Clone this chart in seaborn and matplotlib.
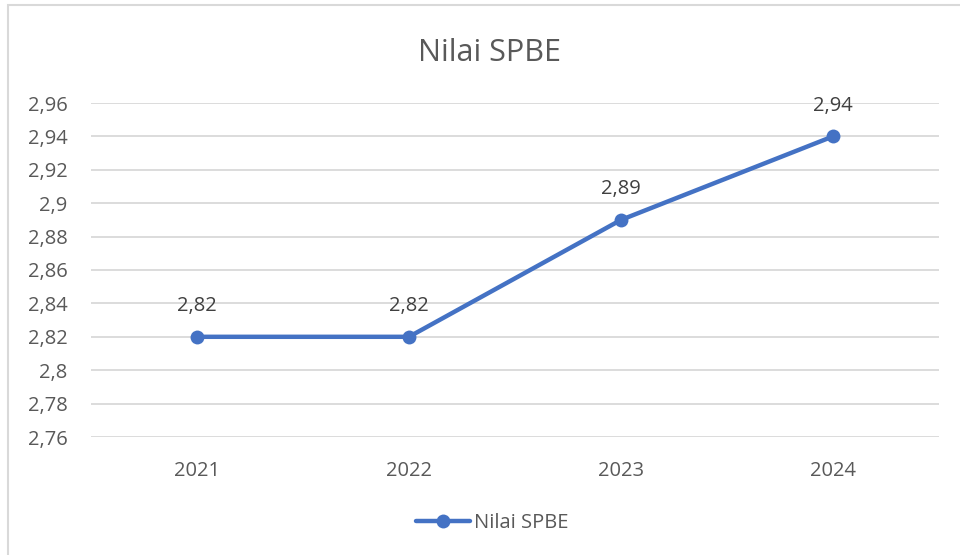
import matplotlib
matplotlib.use("Agg")
import matplotlib.pyplot as plt
import matplotlib.patches as mpatches
from matplotlib.ticker import FixedLocator, FixedFormatter
import pandas as pd
import seaborn as sns

# chart data
years = ["2021", "2022", "2023", "2024"]
values = [2.82, 2.82, 2.89, 2.94]
series_name = "Nilai SPBE"
title = "Nilai SPBE"
yticks = [2.76, 2.78, 2.80, 2.82, 2.84, 2.86, 2.88, 2.90, 2.92, 2.94, 2.96]
ytick_labels = ["2,76", "2,78", "2,8", "2,82", "2,84", "2,86", "2,88", "2,9", "2,92", "2,94", "2,96"]
point_labels = ["2,82", "2,82", "2,89", "2,94"]

sns.set_theme(style="white")
plt.rcParams['font.family'] = ['Open Sans', 'DejaVu Sans']

LINE = "#4472C4"
TEXT = "#595959"
GRID = "#D9D9D9"
FS = 14.5

fig = plt.figure(figsize=(9.6, 5.55), dpi=100)
fig.patch.set_facecolor("white")
ax = fig.add_axes([91 / 960, 1 - 437 / 555, 848 / 960, 334 / 555])

# chart border (cropped at right/bottom)
fig.patches.append(mpatches.Rectangle((8 / 960, -0.1), 1.2, 1 - 5 / 555 + 0.1,
                                      transform=fig.transFigure, fill=False,
                                      edgecolor=GRID, linewidth=1.5, zorder=0))

df = pd.DataFrame({"year": years, "value": values})
sns.lineplot(data=df, x="year", y="value", ax=ax, color=LINE, linewidth=3.2,
             marker="o", markersize=10, markeredgewidth=0, label=series_name,
             sort=False)

ax.set_xlim(-0.5, len(years) - 0.5)
ax.set_ylim(yticks[0], yticks[-1])
ax.yaxis.set_major_locator(FixedLocator(yticks))
ax.yaxis.set_major_formatter(FixedFormatter(ytick_labels))
ax.grid(axis="y", color=GRID, linewidth=1.3)
ax.grid(axis="x", visible=False)
ax.set_axisbelow(True)
for s in ax.spines.values():
    s.set_visible(False)
ax.tick_params(axis="both", length=0, labelsize=FS, colors=TEXT)
ax.tick_params(axis="y", pad=17)
ax.tick_params(axis="x", pad=17)
ax.set_xlabel("")
ax.set_ylabel("")

# data labels
for i, (v, lab) in enumerate(zip(values, point_labels)):
    ax.annotate(lab, (i, v), xytext=(0, 22), textcoords="offset points",
                ha="center", va="center", fontsize=FS, color="#404040")

fig.text(490 / 960, 1 - 53 / 555, title, ha="center", va="center",
         fontsize=22, color=TEXT)

leg = ax.legend(loc="center", bbox_to_anchor=(492 / 960, 1 - 523 / 555),
                bbox_transform=fig.transFigure, frameon=False, fontsize=FS,
                handlelength=2.7, handletextpad=0.2, labelcolor=TEXT)

fig.savefig("out.png", dpi=100)
